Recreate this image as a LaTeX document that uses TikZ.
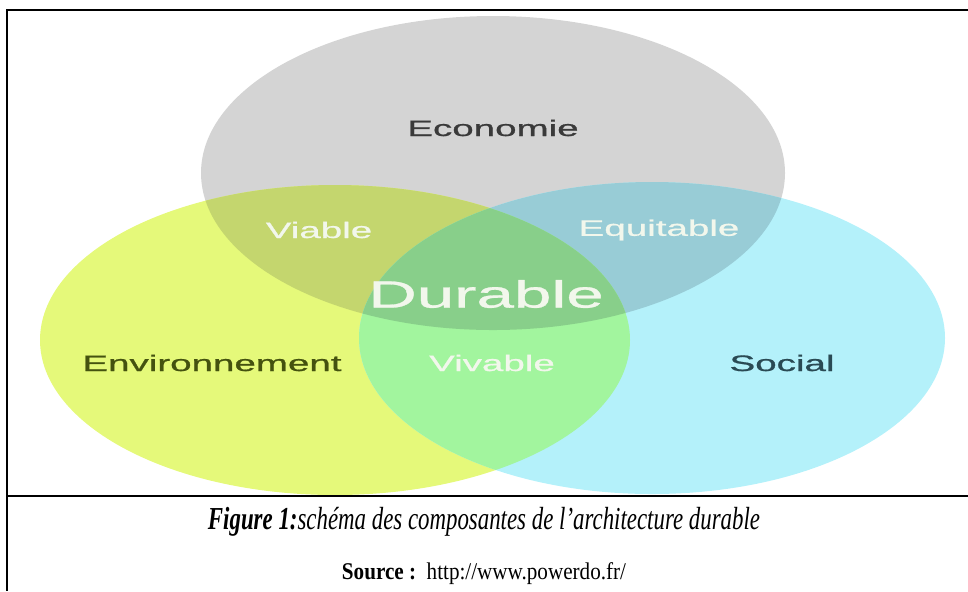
\documentclass[tikz,border=0pt]{standalone}
\usepackage{fontspec}
\setmainfont{Liberation Serif}
\setsansfont{Liberation Sans}
\newfontfamily\labfont[FakeBold=0.7]{Liberation Sans}
\usepackage{graphicx}
\definecolor{ecoC}{HTML}{D4D4D4}
\definecolor{envC}{HTML}{E5F97A}
\definecolor{socC}{HTML}{B4F1FA}
\definecolor{viaC}{HTML}{C4D66E}
\definecolor{equC}{HTML}{98CCD6}
\definecolor{vivC}{HTML}{A2F59E}
\definecolor{durC}{HTML}{88CF8A}
\definecolor{ecoT}{HTML}{3A3A3A}
\definecolor{envT}{HTML}{44520F}
\definecolor{socT}{HTML}{2A4A54}
\definecolor{whT}{HTML}{F2F7EC}
\newcommand\stretchtxt[1]{\scalebox{1.72}[1]{#1}}
\begin{document}
\begin{tikzpicture}[x=0.5pt,y=-0.5pt,
  lab/.style={inner sep=0pt,font=\labfont\fontsize{11.2}{13}\selectfont},
  big/.style={inner sep=0pt,font=\labfont\fontsize{19}{22}\selectfont},
  frameline/.style={line width=1.1pt,black}]
\useasboundingbox (0,0) rectangle (968,591);
% circles
\fill[ecoC] (493,173) ellipse [x radius=292, y radius=157];
\fill[envC] (335,340) ellipse [x radius=295, y radius=155];
\fill[socC] (652,338) ellipse [x radius=293, y radius=156];
\begin{scope}
  \clip (493,173) ellipse [x radius=292, y radius=157];
  \fill[viaC] (335,340) ellipse [x radius=295, y radius=155];
  \fill[equC] (652,338) ellipse [x radius=293, y radius=156];
\end{scope}
\begin{scope}
  \clip (335,340) ellipse [x radius=295, y radius=155];
  \clip (652,338) ellipse [x radius=293, y radius=156];
  \fill[vivC] (0,0) rectangle (968,591);
\end{scope}
\begin{scope}
  \clip (493,173) ellipse [x radius=292, y radius=157];
  \clip (335,340) ellipse [x radius=295, y radius=155];
  \fill[durC] (652,338) ellipse [x radius=293, y radius=156];
\end{scope}
% labels
\node[lab,text=ecoT] (economie) at (493,128) {\stretchtxt{Economie}};
\node[lab,text=whT] (viable) at (319,230) {\stretchtxt{Viable}};
\node[lab,text=whT] (equitable) at (659,230) {\stretchtxt{Equitable}};
\node[big,text=whT] (durable) at (486,294) {\scalebox{1.77}[1]{Durable}};
\node[lab,text=envT] (environnement) at (212,363) {\stretchtxt{Environnement}};
\node[lab,text=whT] (vivable) at (492,363) {\stretchtxt{Vivable}};
\node[lab,text=socT] (social) at (782,363) {\stretchtxt{Social}};
% frame
\coordinate (tl) at (7,10);
\coordinate (tr) at (968,10);
\coordinate (bl) at (7,591);
\coordinate (ml) at (7,496);
\coordinate (mr) at (968,496);
\draw[frameline] (tr) -- (tl) -- (bl);
\draw[frameline] (ml) -- (mr);
% caption
\node[inner sep=0pt,font=\fontsize{16}{18}\selectfont] (caption) at (484,522)
  {\resizebox{276pt}{\height}{\itshape\textbf{Figure 1:}schéma des composantes de l’architecture durable}};
\node[inner sep=0pt,font=\fontsize{12}{14}\selectfont] (source) at (484,574)
  {\resizebox{142pt}{\height}{\textbf{Source :}~~http://www.powerdo.fr/}};
\end{tikzpicture}
\end{document}
